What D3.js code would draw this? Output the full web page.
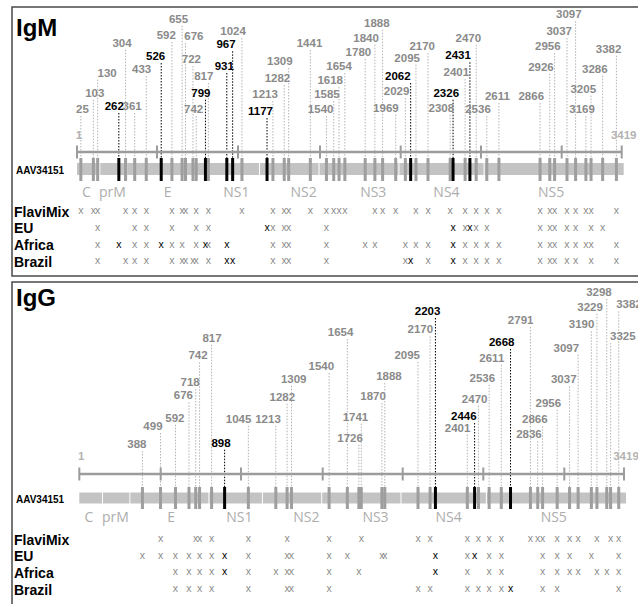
<!DOCTYPE html>
<html><head><meta charset="utf-8">
<script src="https://cdn.jsdelivr.net/npm/d3@7"></script>
<style>html,body{margin:0;padding:0;background:#fff}svg{display:block}</style>
</head><body><svg id="c" width="638" height="604"></svg>
<script>
// ---------- DATA ----------
const axisTicks = [1, 500, 1000, 1500, 2000, 2500, 3000, 3419];
const proteins = ["C", "prM", "E", "NS1", "NS2", "NS3", "NS4", "NS5"];
const proteinLabelPos = [60, 222, 565, 990, 1400, 1830, 2285, 2935];
const proteinEnds = [140, 308, 797, 1128, 1491, 1986, 2516];
const groups = ["FlaviMix", "EU", "Africa", "Brazil"];

const igmEpitopes = [25,103,130,262,304,361,433,526,592,655,676,722,742,799,817,931,967,1024,1177,1213,1282,1309,1441,1540,1585,1618,1654,1780,1840,1888,1969,2029,2062,2095,2170,2308,2326,2401,2431,2470,2536,2611,2866,2926,2956,3037,3097,3169,3205,3286,3382];
const igmBold = [262,526,799,931,967,1177,2062,2326,2431];
const igmFlaviMix = [25,103,130,304,361,433,592,655,676,742,817,1024,1213,1282,1309,1441,1540,1585,1618,1654,1840,1888,1969,2095,2170,2308,2401,2470,2536,2611,2866,2926,2956,3037,3097,3169,3205,3382];
const igmEU = [130,361,433,592,742,817,1177,1213,1282,1309,1540,2326,2401,2431,2470,2536,2866,2926,2956,3037,3097,3205,3286];
const igmAfrica = [130,262,361,433,526,592,655,742,799,817,931,1213,1282,1309,1540,1780,1840,2029,2095,2170,2326,2401,2470,2536,2611,2866,2926,2956,3037,3097,3169,3205,3382];
const igmBrazil = [130,304,361,433,592,655,676,722,742,817,931,967,1213,1282,1309,1540,2029,2062,2170,2326,2401,2470,2536,2611,2866,2926,2956,3037,3097,3205,3382];

const iggEpitopes = [388,499,592,676,718,742,817,898,1045,1213,1282,1309,1540,1654,1726,1741,1870,1888,2095,2170,2203,2401,2446,2470,2536,2611,2668,2791,2836,2866,2956,3037,3097,3190,3229,3298,3325,3382];
const iggBold = [898,2203,2446,2668];
const iggFlaviMix = [499,718,742,817,1045,1282,1540,1741,2095,2170,2401,2470,2536,2611,2791,2836,2866,2956,3037,3097,3229,3325,3382];
const iggEU = [388,499,592,676,742,817,898,1045,1282,1309,1540,1654,1870,1888,2203,2401,2446,2536,2611,2866,2956,3037,3190,3382];
const iggAfrica = [592,676,742,817,898,1045,1213,1282,1309,1540,1726,2203,2401,2536,2611,2866,2956,3037,3097,3229,3298,3382];
const iggBrazil = [592,676,742,817,1045,1282,1309,1540,2095,2170,2401,2470,2536,2611,2668,2866,2956,3382];

// ---------- LAYOUT (label placement: [baseline y, right-edge offset]) ----------
const igmLabelLayout = {25:[113,8],103:[96.7,11],130:[76.7,19],262:[110,5],304:[46.7,6],361:[110,7],433:[73,5],526:[60,4],592:[39,4],655:[22.7,6],676:[40,18],722:[63,8],742:[113,7],799:[96.7,5],817:[80,5],931:[70,7],967:[48.3,3],1024:[35,4],1177:[115,6],1213:[98,5],1282:[82,6],1309:[65,4],1441:[47,12],1540:[113,7],1585:[98,6],1618:[84,4],1654:[70,7],1780:[56,6],1840:[41.7,4],1888:[26.7,7],1969:[111.7,3],2029:[95,4],2062:[80,0],2095:[61.7,4],2170:[50,7],2308:[111.7,4],2326:[96.7,6],2401:[76,4],2431:[59.3,1],2470:[41.7,5],2536:[113,4],2611:[100,11],2866:[100,4],2926:[70.7,4],2956:[50,6],3037:[35,5],3097:[18.3,6],3169:[113,9],3205:[92.7,5],3286:[72.7,5],3382:[52.7,5]};
const iggLabelLayout = {388:[448,4],499:[430,2],592:[421.7,9],676:[399.3,4],718:[386,4],742:[359.3,8],817:[341.7,10],898:[446.7,6],1045:[422.7,3],1213:[422.7,5],1282:[400.7,8],1309:[382.7,15],1540:[370,5],1654:[336,6],1726:[441.7,4],1741:[420.7,7],1870:[400,4],1888:[380,17],2095:[359,2],2170:[333.3,3],2203:[315,5],2401:[431.7,3],2446:[420,2],2470:[402.7,9],2536:[381.7,6],2611:[361.7,3],2668:[346,4],2791:[324,3],2836:[438.3,4],2866:[423.3,5],2956:[406.7,4],3037:[383.3,7],3097:[351.7,1],3190:[328.3,3],3229:[310.7,6],3298:[296,5],3325:[340,25],3382:[308.3,23]};

const panels = [
  {title:"IgM", epitopes:igmEpitopes, bold:igmBold, rows:[igmFlaviMix,igmEU,igmAfrica,igmBrazil], layout:igmLabelLayout,
   range:[77,157,238,320,400.7,481,561.7,621.7],
   box:[12,7,640,276], titleY:36, axisY:152, endLabelY:139, barY:163, barH:12, markY:158, markH:23,
   protY:197, rowY0:216.5, rowStep:16.8, accY:173.5},
  {title:"IgG", epitopes:iggEpitopes, bold:iggBold, rows:[iggFlaviMix,iggEU,iggAfrica,iggBrazil], layout:iggLabelLayout,
   range:[79.3,160.7,241,322.7,402.7,483.3,564.3,624],
   box:[12,282,640,606], titleY:306, axisY:474, endLabelY:460, barY:492.5, barH:11, markY:487, markH:22,
   protY:521.5, rowY0:544.5, rowStep:16.7, accY:502.5}
];

const svg = d3.select("#c");
const SANS = "'Liberation Sans', Arial, sans-serif";
const GRAY_LABEL = "#8a8a8a";

panels.forEach(p => {
  const g = svg.append("g");
  const x = d3.scaleLinear().domain(axisTicks).range(p.range);
  const isBold = v => p.bold.includes(v);

  // frame
  g.append("rect").attr("x", p.box[0]).attr("y", p.box[1])
    .attr("width", p.box[2]-p.box[0]).attr("height", p.box[3]-p.box[1])
    .attr("fill", "none").attr("stroke", "#4a4a4a").attr("stroke-width", 1.5);

  g.append("text").attr("x", 16).attr("y", p.titleY).text(p.title)
    .attr("font-family", SANS).attr("font-weight", "bold").attr("font-size", 24).attr("fill", "#000");

  // dotted leader lines (grey first, bold on top)
  const sorted = p.epitopes.slice().sort((a,b) => isBold(a) - isBold(b));
  g.selectAll(".lead").data(sorted).join("line")
    .attr("x1", d => x(d)).attr("x2", d => x(d))
    .attr("y1", d => p.layout[d][0] + 3).attr("y2", p.markY)
    .attr("stroke", d => isBold(d) ? "#000" : "#b4b4b4")
    .attr("stroke-width", 1).attr("stroke-dasharray", "1.5,1.5");

  // axis line and ticks
  g.append("line").attr("x1", x(axisTicks[0])).attr("x2", x(axisTicks[axisTicks.length-1]))
    .attr("y1", p.axisY).attr("y2", p.axisY).attr("stroke", "#9c9c9c").attr("stroke-width", 2.5);
  g.selectAll(".tk").data(axisTicks).join("line")
    .attr("x1", d => x(d)).attr("x2", d => x(d))
    .attr("y1", p.axisY - 6.5).attr("y2", p.axisY + 6.5)
    .attr("stroke", "#9c9c9c").attr("stroke-width", 2);
  [axisTicks[0], axisTicks[axisTicks.length-1]].forEach(v => {
    g.append("text").attr("x", x(v) + (v === 1 ? 2 : 2)).attr("y", p.endLabelY)
      .attr("text-anchor", "middle").text(v)
      .attr("font-family", SANS).attr("font-weight", "bold").attr("font-size", 11.5).attr("fill", "#b3b3b3");
  });

  // epitope labels
  g.selectAll(".lab").data(p.epitopes).join("text")
    .attr("x", d => x(d) + p.layout[d][1]).attr("y", d => p.layout[d][0])
    .attr("text-anchor", "end").text(d => d)
    .attr("font-family", SANS).attr("font-weight", "bold").attr("font-size", 11.5)
    .attr("fill", d => isBold(d) ? "#000" : GRAY_LABEL);

  // polyprotein bar segments
  const bounds = [axisTicks[0]].concat(proteinEnds, [axisTicks[axisTicks.length-1]]);
  const segs = d3.pairs(bounds);
  g.selectAll(".seg").data(segs).join("rect")
    .attr("x", (d,i) => x(d[0]) + (i ? 1 : 0))
    .attr("width", (d,i) => x(d[1]) - x(d[0]) - (i < segs.length-1 ? 2 : 0) - (i ? 1 : 0) + 2)
    .attr("y", p.barY).attr("height", p.barH).attr("fill", "#c3c3c3");

  g.append("text").attr("x", 16).attr("y", p.accY).text("AAV34151")
    .attr("font-family", SANS).attr("font-weight", "bold").attr("font-size", 10).attr("fill", "#000");

  // epitope marks on the bar
  g.selectAll(".mk").data(sorted).join("rect")
    .attr("x", d => x(d) - 1.5).attr("width", 3)
    .attr("y", p.markY).attr("height", p.markH)
    .attr("fill", d => isBold(d) ? "#000" : "#9e9e9e");

  // protein labels
  g.selectAll(".prot").data(proteins).join("text")
    .attr("x", (d,i) => x(proteinLabelPos[i])).attr("y", p.protY)
    .attr("text-anchor", "middle").text(d => d)
    .attr("font-family", "'Open Sans', sans-serif").attr("font-size", 14).attr("fill", "#adadad");

  // group rows
  groups.forEach((grp, gi) => {
    const yy = p.rowY0 + gi * p.rowStep;
    g.append("text").attr("x", 14).attr("y", yy).text(grp)
      .attr("font-family", SANS).attr("font-weight", "bold").attr("font-size", 14).attr("fill", "#000");
    g.selectAll(".x" + gi).data(p.rows[gi]).join("text")
      .attr("x", d => x(d)).attr("y", yy - 2.5).attr("text-anchor", "middle").text("x")
      .attr("font-family", SANS).attr("font-size", 10.5)
      .attr("fill", d => isBold(d) ? "#000" : "#8c8c8c");
  });
});
</script></body></html>
